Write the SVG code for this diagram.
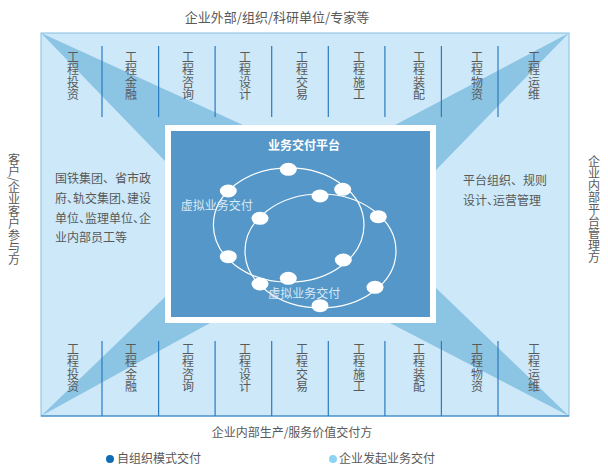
<svg xmlns="http://www.w3.org/2000/svg" width="608" height="471" viewBox="0 0 608 471">
<style>
text{font-family:"Noto Sans CJK SC","Noto Sans",sans-serif;fill:#595959;}
.t12{font-size:12px;}
.vert{writing-mode:vertical-rl;font-size:12px;}
.col{writing-mode:vertical-rl;font-size:12px;letter-spacing:0.5px;}
.band{fill:#8cc4e4;}
.sep{stroke:#2a7bbf;stroke-width:1.2;}
.ring{fill:none;stroke:#ffffff;stroke-width:1.2;}
.node{fill:#ffffff;}
.virt{font-size:12px;fill:#d9ebf7;}
.halt{font-feature-settings:"halt";}
</style>
<rect width="608" height="471" fill="#ffffff"/>
<g id="frame-box">
<rect x="41" y="33" width="528" height="383" fill="#cde9f9" stroke="#86bde0" stroke-width="1"/>
<polygon class="band" points="41,33 243,125 165,161"/>
<polygon class="band" points="569,33 395,125 436,170"/>
<polygon class="band" points="41,416 165,297 210,323"/>
<polygon class="band" points="569,416 436,288 390,323"/>
</g>
<text id="top-title" x="277" y="22" font-size="13" text-anchor="middle">企业外部/组织/科研单位/专家等</text>
<text id="left-title" class="vert" x="14" y="153">客户/企业客户参与方</text>
<text id="right-title" class="vert" x="594" y="155">企业内部平台管理方</text>
<text id="bottom-title" class="t12" x="292" y="437" text-anchor="middle">企业内部生产/服务价值交付方</text>
<g id="connectors">
<line class="sep" x1="102" y1="46" x2="102" y2="117"/>
<line class="sep" x1="158.6" y1="46" x2="158.6" y2="117"/>
<line class="sep" x1="215.1" y1="46" x2="215.1" y2="117"/>
<line class="sep" x1="271.7" y1="46" x2="271.7" y2="117"/>
<line class="sep" x1="328.3" y1="46" x2="328.3" y2="117"/>
<line class="sep" x1="384.9" y1="46" x2="384.9" y2="117"/>
<line class="sep" x1="441.4" y1="46" x2="441.4" y2="117"/>
<line class="sep" x1="498" y1="46" x2="498" y2="117"/>
<line class="sep" x1="102" y1="341" x2="102" y2="416"/>
<line class="sep" x1="158.6" y1="341" x2="158.6" y2="416"/>
<line class="sep" x1="215.1" y1="341" x2="215.1" y2="416"/>
<line class="sep" x1="271.7" y1="341" x2="271.7" y2="416"/>
<line class="sep" x1="328.3" y1="341" x2="328.3" y2="416"/>
<line class="sep" x1="384.9" y1="341" x2="384.9" y2="416"/>
<line class="sep" x1="441.4" y1="341" x2="441.4" y2="416"/>
<line class="sep" x1="498" y1="341" x2="498" y2="416"/>
<line x1="41" y1="416" x2="569" y2="416" stroke="#2a7bbf" stroke-width="1"/>
</g>
<g id="top-columns">
<text class="col" x="73" y="51">工程投资</text>
<text class="col" x="131" y="51">工程金融</text>
<text class="col" x="188" y="51">工程咨询</text>
<text class="col" x="245" y="51">工程设计</text>
<text class="col" x="302" y="51">工程交易</text>
<text class="col" x="359" y="51">工程施工</text>
<text class="col" x="419" y="51">工程装配</text>
<text class="col" x="477" y="51">工程物资</text>
<text class="col" x="534" y="51">工程运维</text>
</g>
<g id="bottom-columns">
<text class="col" x="73" y="343">工程投资</text>
<text class="col" x="131" y="343">工程金融</text>
<text class="col" x="188" y="343">工程咨询</text>
<text class="col" x="245" y="343">工程设计</text>
<text class="col" x="302" y="343">工程交易</text>
<text class="col" x="359" y="343">工程施工</text>
<text class="col" x="419" y="343">工程装配</text>
<text class="col" x="477" y="343">工程物资</text>
<text class="col" x="534" y="343">工程运维</text>
</g>
<g id="left-text" class="t12">
<text x="55" y="183">国铁集团、省市政</text>
<text x="55" y="203" class="halt">府、轨交集团、建设</text>
<text x="55" y="223" class="halt">单位、监理单位、企</text>
<text x="55" y="242">业内部员工等</text>
</g>
<g id="right-text" class="t12">
<text x="463" y="185">平台组织、规则</text>
<text x="463" y="205" class="halt">设计、运营管理</text>
</g>
<g id="platform">
<rect x="165" y="125" width="271" height="198" fill="#ffffff"/>
<rect x="171" y="131" width="259" height="186" fill="#5497c8"/>
<text x="304" y="150" font-size="12" font-weight="bold" text-anchor="middle" style="fill:#ffffff">业务交付平台</text>
<ellipse class="ring" cx="288.7" cy="225" rx="75.3" ry="57.2"/>
<ellipse class="ring" cx="320.5" cy="251" rx="75.5" ry="57"/>
<ellipse class="node" cx="288.3" cy="169.3" rx="8.5" ry="6.5"/>
<ellipse class="node" cx="228.3" cy="191" rx="8.5" ry="6.5"/>
<ellipse class="node" cx="342.7" cy="189.3" rx="8.5" ry="6.5"/>
<ellipse class="node" cx="228.3" cy="256.7" rx="8.5" ry="6.5"/>
<ellipse class="node" cx="288.3" cy="278.3" rx="8.5" ry="6.5"/>
<ellipse class="node" cx="343.3" cy="260" rx="8.5" ry="6.5"/>
<ellipse class="node" cx="320" cy="196" rx="8.5" ry="6.5"/>
<ellipse class="node" cx="260" cy="218.3" rx="8.5" ry="6.5"/>
<ellipse class="node" cx="378.3" cy="216.7" rx="8.5" ry="6.5"/>
<ellipse class="node" cx="260" cy="284" rx="8.5" ry="6.5"/>
<ellipse class="node" cx="320" cy="305.7" rx="8.5" ry="6.5"/>
<ellipse class="node" cx="375" cy="287.3" rx="8.5" ry="6.5"/>
<text class="virt" x="180.7" y="210.3">虚拟业务交付</text>
<text class="virt" x="268.3" y="297.6">虚拟业务交付</text>
</g>
<g id="legend">
<circle cx="110" cy="459" r="4" fill="#0f6cb6"/>
<text class="t12" x="117" y="463.3">自组织模式交付</text>
<circle cx="333" cy="459" r="4" fill="#8dd3f4"/>
<text class="t12" x="339" y="463.3">企业发起业务交付</text>
</g>
</svg>
